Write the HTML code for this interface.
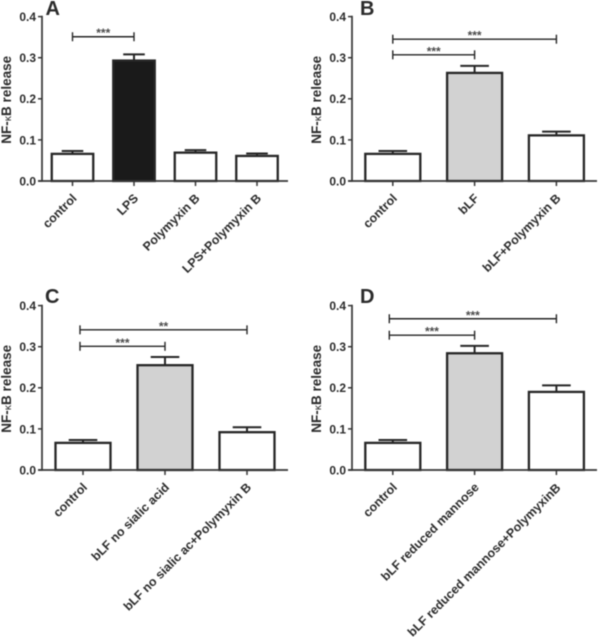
<!DOCTYPE html>
<html lang="en">
<head>
<meta charset="utf-8">
<title>NF-κB release panels</title>
<style>
html,body{margin:0;padding:0;background:#fff;}
#figure{display:block;width:600px;height:637px;filter:blur(0.4px);}
text{font-family:"Liberation Sans",Arial,sans-serif;font-weight:bold;fill:#2b2b2b;}
</style>
</head>
<body>
<svg id="figure" xmlns="http://www.w3.org/2000/svg" width="600" height="637" viewBox="0 0 600 637"></svg>
<script>
var yTickValues = [0, 0.1, 0.2, 0.3, 0.4];
var yTickLabels = ['0.0', '0.1', '0.2', '0.3', '0.4'];

var categoriesA = ['control', 'LPS', 'Polymyxin B', 'LPS+Polymyxin B'];
var meansA = [0.066, 0.293, 0.069, 0.061];
var errorTopsA = [0.073, 0.308, 0.075, 0.067];
var fillKindsA = ['open', 'dark', 'open', 'open'];
var bracketLevelsA = [0.351];
var bracketEndsA = [1];
var bracketLabelsA = ['***'];

var categoriesB = ['control', 'bLF', 'bLF+Polymyxin B'];
var meansB = [0.066, 0.263, 0.111];
var errorTopsB = [0.073, 0.280, 0.120];
var fillKindsB = ['open', 'grey', 'open'];
var bracketLevelsB = [0.345, 0.307];
var bracketEndsB = [2, 1];
var bracketLabelsB = ['***', '***'];

var categoriesC = ['control', 'bLF no sialic acid', 'bLF no sialic ac+Polymyxin B'];
var meansC = [0.066, 0.255, 0.092];
var errorTopsC = [0.073, 0.275, 0.104];
var fillKindsC = ['open', 'grey', 'open'];
var bracketLevelsC = [0.341, 0.301];
var bracketEndsC = [2, 1];
var bracketLabelsC = ['**', '***'];

var categoriesD = ['control', 'bLF reduced mannose', 'bLF reduced mannose+PolymyxinB'];
var meansD = [0.066, 0.284, 0.190];
var errorTopsD = [0.073, 0.302, 0.206];
var fillKindsD = ['open', 'grey', 'open'];
var bracketLevelsD = [0.368, 0.328];
var bracketEndsD = [2, 1];
var bracketLabelsD = ['***', '***'];

var NS = 'http://www.w3.org/2000/svg';
var INK = '#262626';
var AXIS = '#363636';
var FILLS = { open: '#ffffff', dark: '#1a1a1a', grey: '#d2d2d2' };

function make(parent, tag, attrs, content) {
  var el = document.createElementNS(NS, tag);
  for (var k in attrs) el.setAttribute(k, attrs[k]);
  if (content !== undefined) el.textContent = content;
  parent.appendChild(el);
  return el;
}

function drawPanel(layout, letter, categories, means, errorTops, fillKinds, bracketLevels, bracketEnds, bracketLabels) {
  var root = document.getElementById('figure');
  var g = make(root, 'g', {});
  
  

  function yScale(v) { return layout.base - v * layout.pxPerUnit; }
  function xScale(i) { return layout.first + i * layout.step; }

  var letterEl = make(g, 'text', { x: layout.letterX, y: layout.letterY, 'font-size': 20 }, letter);
  
  

  categories.forEach(function (cat, i) {
    var x = xScale(i);
    var w = layout.barWidth;
    var top = yScale(means[i]);
    var errTop = yScale(errorTops[i]);
    var capHalf = w * 0.26;

    var stem = make(g, 'line', { x1: x, x2: x, y1: top, y2: errTop, stroke: INK, 'stroke-width': 2 });
    
    

    var cap = make(g, 'line', { x1: x - capHalf, x2: x + capHalf, y1: errTop, y2: errTop, stroke: INK, 'stroke-width': 2 });
    
    

    var bar = make(g, 'rect', {
      x: x - w / 2, y: top, width: w, height: layout.base - top,
      fill: FILLS[fillKinds[i]], stroke: INK, 'stroke-width': 2.3
    });
    
    
  });

  var yAxis = make(g, 'line', {
    x1: layout.left, x2: layout.left, y1: yScale(0.4) - 0.8, y2: layout.base + 0.8,
    stroke: AXIS, 'stroke-width': 1.7
  });
  
  

  var xAxis = make(g, 'line', {
    x1: layout.left - 4, x2: layout.right, y1: layout.base, y2: layout.base,
    stroke: AXIS, 'stroke-width': 1.7
  });
  
  

  yTickValues.forEach(function (v, i) {
    var y = yScale(v);
    var tick = make(g, 'line', { x1: layout.left - 4, x2: layout.left, y1: y, y2: y, stroke: AXIS, 'stroke-width': 1.5 });
    
    

    var label = make(g, 'text', { x: layout.left - 6, y: y + 4.4, 'font-size': 12, 'text-anchor': 'end' }, yTickLabels[i]);
    
    
  });

  categories.forEach(function (cat, i) {
    var x = xScale(i);
    var tick = make(g, 'line', { x1: x, x2: x, y1: layout.base, y2: layout.base + 5, stroke: AXIS, 'stroke-width': 1.5 });
    
    

    var isLast = i === categories.length - 1;
    var lx = x + 5 + (isLast ? layout.lastLabelDx : 0);
    var ly = layout.base + 18 + (isLast ? layout.lastLabelDy : 0);
    var label = make(g, 'text', {
      x: lx, y: ly, 'font-size': 12.4, 'text-anchor': 'end',
      transform: 'rotate(-45 ' + lx + ' ' + ly + ')'
    }, cat);
    
    
  });

  var titleX = layout.left - 31;
  var titleY = yScale(0.2) + 1;
  var title = make(g, 'text', {
    x: titleX, y: titleY, 'font-size': 13.5, 'text-anchor': 'middle',
    transform: 'rotate(-90 ' + titleX + ' ' + titleY + ')'
  });
  
  
  make(title, 'tspan', {}, 'NF-');
  make(title, 'tspan', { 'font-size': 10.5, 'font-weight': 'normal' }, 'κ');
  make(title, 'tspan', {}, 'B release');

  bracketLevels.forEach(function (level, i) {
    var y = yScale(level);
    var x1 = xScale(0) + layout.bracketOffset;
    var x2 = xScale(bracketEnds[i]);

    var h = make(g, 'line', { x1: x1, x2: x2, y1: y, y2: y, stroke: INK, 'stroke-width': 1.4 });
    
    

    var left = make(g, 'line', { x1: x1, x2: x1, y1: y - 4.5, y2: y + 4.5, stroke: INK, 'stroke-width': 1.4 });
    
    

    var right = make(g, 'line', { x1: x2, x2: x2, y1: y - 4.5, y2: y + 4.5, stroke: INK, 'stroke-width': 1.4 });
    
    

    var stars = make(g, 'text', { x: (x1 + x2) / 2, y: y + 0.5, 'font-size': 12, 'text-anchor': 'middle', style: 'fill:#4a4a4a' }, bracketLabels[i]);
    
    
  });
}

drawPanel({ left: 42, right: 288, base: 181, pxPerUnit: 411, first: 72.5, step: 61.5, barWidth: 41.5, bracketOffset: 0, letterX: 45.5, letterY: 15, lastLabelDx: 0, lastLabelDy: 0 },
  'A', categoriesA, meansA, errorTopsA, fillKindsA, bracketLevelsA, bracketEndsA, bracketLabelsA);
drawPanel({ left: 352, right: 597, base: 181, pxPerUnit: 411, first: 392.8, step: 81.8, barWidth: 55, bracketOffset: 0, letterX: 360, letterY: 15, lastLabelDx: 0, lastLabelDy: 0 },
  'B', categoriesB, meansB, errorTopsB, fillKindsB, bracketLevelsB, bracketEndsB, bracketLabelsB);
drawPanel({ left: 42, right: 288, base: 470, pxPerUnit: 411, first: 83, step: 82, barWidth: 55, bracketOffset: -3, letterX: 45, letterY: 303, lastLabelDx: 0, lastLabelDy: 0 },
  'C', categoriesC, meansC, errorTopsC, fillKindsC, bracketLevelsC, bracketEndsC, bracketLabelsC);
drawPanel({ left: 352, right: 597, base: 470, pxPerUnit: 411, first: 392.8, step: 81.8, barWidth: 55, bracketOffset: -3.5, letterX: 360, letterY: 303, lastLabelDx: 0, lastLabelDy: 0.5 },
  'D', categoriesD, meansD, errorTopsD, fillKindsD, bracketLevelsD, bracketEndsD, bracketLabelsD);
</script>
</body>
</html>
